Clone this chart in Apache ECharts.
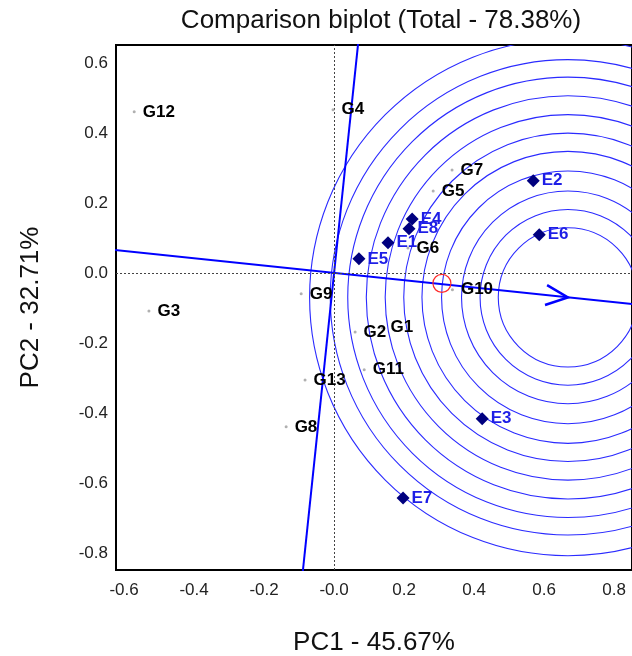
<!DOCTYPE html>
<html>
<head>
<meta charset="utf-8">
<script src="https://cdn.jsdelivr.net/npm/echarts@6/dist/echarts.min.js"></script>
<style>
  html, body { margin: 0; padding: 0; background: #fff; }
  #chart { width: 632px; height: 656px; }
</style>
</head>
<body>
<div id="chart"></div>
<script>
// Genotype scores (PC1, PC2)
const genotypes = ['G1', 'G2', 'G3', 'G4', 'G5', 'G6', 'G7', 'G8', 'G9', 'G10', 'G11', 'G12', 'G13'];
const genoPC1 = [0.137, 0.060, -0.529, -0.003, 0.283, 0.211, 0.337, -0.137, -0.094, 0.338, 0.086, -0.571, -0.083];
const genoPC2 = [-0.157, -0.169, -0.109, 0.466, 0.234, 0.071, 0.294, -0.440, -0.060, -0.048, -0.277, 0.460, -0.306];

// Environment scores (PC1, PC2)
const environments = ['E1', 'E2', 'E3', 'E4', 'E5', 'E6', 'E7', 'E8'];
const envPC1 = [0.154, 0.569, 0.423, 0.223, 0.071, 0.586, 0.197, 0.214];
const envPC2 = [0.086, 0.263, -0.417, 0.154, 0.040, 0.109, -0.643, 0.126];

// Ideal environment (centre of the rings, arrow tip) and average environment
const idealEnv = [0.668, -0.070];
const averageEnv = [0.308, -0.030];

// Distance rings around the ideal environment
const ringRadii = [0.199, 0.251, 0.304, 0.361, 0.417, 0.469, 0.522, 0.576, 0.629, 0.679, 0.738];

// Axis ticks
const xTicks = [-0.6, -0.4, -0.2, 0, 0.2, 0.4, 0.6, 0.8];
const xTickLabels = ['-0.6', '-0.4', '-0.2', '-0.0', '0.2', '0.4', '0.6', '0.8'];
const yTicks = [-0.8, -0.6, -0.4, -0.2, 0, 0.2, 0.4, 0.6];
const yTickLabels = ['-0.8', '-0.6', '-0.4', '-0.2', '0.0', '0.2', '0.4', '0.6'];

const FONT = '"Liberation Sans", Arial, sans-serif';
const BLUE = '#0000ff';

function tickText(ticks, labels) {
  return function (v) {
    const i = ticks.findIndex(t => Math.abs(t - v) < 1e-9);
    return i >= 0 ? labels[i] : '';
  };
}

// Average-environment axis and its perpendicular through the origin
const K = 3;
const aeaLine = [[-K * idealEnv[0], -K * idealEnv[1]], [K * idealEnv[0], K * idealEnv[1]]];
const perpLine = [[K * idealEnv[1], -K * idealEnv[0]], [-K * idealEnv[1], K * idealEnv[0]]];

const chart = echarts.init(document.getElementById('chart'), null, { renderer: 'canvas' });

chart.setOption({
  animation: false,
  backgroundColor: '#fff',
  graphic: [
    {
      type: 'text', x: 381, y: 21, z: 10,
      style: {
        text: 'Comparison biplot (Total - 78.38%)',
        align: 'center', verticalAlign: 'middle',
        font: '26px ' + FONT, fill: '#111'
      }
    }
  ],
  grid: {
    left: 116, top: 45, width: 516, height: 525,
    outerBoundsMode: 'none', containLabel: false,
    show: true, borderColor: '#000', borderWidth: 2, backgroundColor: '#fff'
  },
  xAxis: {
    type: 'value', min: -0.623, max: 0.851,
    name: 'PC1 - 45.67%', nameLocation: 'middle', nameGap: 60,
    nameTextStyle: { fontSize: 26, fontFamily: FONT, color: '#111' },
    axisLine: { show: false }, axisTick: { show: false }, splitLine: { show: false },
    axisLabel: {
      customValues: xTicks, formatter: tickText(xTicks, xTickLabels),
      fontSize: 17, fontFamily: FONT, color: '#222', margin: 12
    }
  },
  yAxis: {
    type: 'value', min: -0.849, max: 0.651,
    name: 'PC2 - 32.71%', nameLocation: 'middle', nameGap: 72, nameRotate: 90,
    nameTextStyle: { fontSize: 26, fontFamily: FONT, color: '#111' },
    axisLine: { show: false }, axisTick: { show: false }, splitLine: { show: false },
    axisLabel: {
      customValues: yTicks, formatter: tickText(yTicks, yTickLabels),
      fontSize: 17, fontFamily: FONT, color: '#222', margin: 8
    }
  },
  series: [
    {
      // concentric rings around the ideal environment
      type: 'custom', z: 1, clip: true, silent: true,
      encode: { x: 0, y: 1 },
      data: ringRadii.map(r => [idealEnv[0], idealEnv[1], r]),
      renderItem: function (params, api) {
        const c = api.coord([api.value(0), api.value(1)]);
        const r = api.size([api.value(2), 0])[0];
        return {
          type: 'circle',
          shape: { cx: c[0], cy: c[1], r: r },
          style: { fill: 'none', stroke: '#2b2bff', lineWidth: 1.1 }
        };
      }
    },
    {
      // reference lines at the origin
      type: 'line', z: 2, data: [], silent: true,
      markLine: {
        silent: true, symbol: 'none', animation: false,
        label: { show: false },
        lineStyle: { type: [2, 2], color: '#444', width: 1 },
        data: [{ xAxis: 0 }, { yAxis: 0 }]
      }
    },
    {
      type: 'line', z: 3, data: aeaLine, showSymbol: false, silent: true,
      lineStyle: { color: BLUE, width: 2 }
    },
    {
      type: 'line', z: 3, data: perpLine, showSymbol: false, silent: true,
      lineStyle: { color: BLUE, width: 2 }
    },
    {
      // arrow head at the ideal environment
      type: 'custom', z: 4, clip: true, silent: true,
      encode: { x: 0, y: 1 },
      data: [idealEnv],
      renderItem: function (params, api) {
        const tip = api.coord([api.value(0), api.value(1)]);
        const o = api.coord([0, 0]);
        const a = Math.atan2(tip[1] - o[1], tip[0] - o[0]);
        const back = 22, half = 10;
        const bx = tip[0] - back * Math.cos(a), by = tip[1] - back * Math.sin(a);
        const nx = -Math.sin(a) * half, ny = Math.cos(a) * half;
        return {
          type: 'polyline',
          shape: { points: [[bx + nx, by + ny], tip, [bx - nx, by - ny]] },
          style: { fill: 'none', stroke: BLUE, lineWidth: 2.5 }
        };
      }
    },
    {
      // average environment marker
      type: 'scatter', z: 5, silent: true,
      data: [averageEnv], symbol: 'circle', symbolSize: 18,
      itemStyle: { color: 'rgba(0,0,0,0)', borderColor: '#ff2a2a', borderWidth: 1.2, opacity: 1 }
    },
    {
      type: 'scatter', z: 6, silent: true,
      data: genotypes.map((g, i) => ({ name: g, value: [genoPC1[i], genoPC2[i]] })),
      symbol: 'circle', symbolSize: 3,
      itemStyle: { color: '#b0b0b0', opacity: 1 },
      label: {
        show: true, position: 'right', distance: 7,
        formatter: p => p.name,
        color: '#000', fontWeight: 'bold', fontSize: 17, fontFamily: FONT
      }
    },
    {
      type: 'scatter', z: 7, silent: true,
      data: environments.map((e, i) => ({ name: e, value: [envPC1[i], envPC2[i]] })),
      symbol: 'diamond', symbolSize: 13,
      itemStyle: { color: '#00007f', opacity: 1 },
      label: {
        show: true, position: 'right', distance: 2,
        formatter: p => p.name,
        color: '#1e1ee6', fontWeight: 'bold', fontSize: 17, fontFamily: FONT
      }
    }
  ]
});
</script>
</body>
</html>
